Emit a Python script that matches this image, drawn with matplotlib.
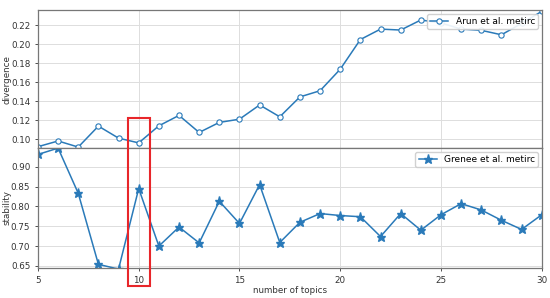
import matplotlib
matplotlib.use("Agg")
import matplotlib.pyplot as plt
from matplotlib.patches import Rectangle

topics = list(range(5, 31))
divergence = [0.092, 0.098, 0.0916, 0.1137, 0.101, 0.096, 0.114, 0.125, 0.107, 0.1176,
              0.121, 0.136, 0.1235, 0.1445, 0.151, 0.1737, 0.205, 0.216, 0.215, 0.2256,
              0.2225, 0.216, 0.2147, 0.21, 0.222, 0.2347]
stability = [0.931, 0.947, 0.833, 0.654, 0.642, 0.845, 0.700, 0.748, 0.708, 0.813,
             0.757, 0.855, 0.709, 0.760, 0.782, 0.777, 0.774, 0.724, 0.782, 0.740,
             0.779, 0.807, 0.791, 0.765, 0.742, 0.779]
xticks = [5, 10, 15, 20, 25, 30]
top_yticks = [0.10, 0.12, 0.14, 0.16, 0.18, 0.20, 0.22]
bot_yticks = [0.65, 0.70, 0.75, 0.80, 0.85, 0.90]

plt.rcParams['font.family'] = ['DejaVu Sans']
fig = plt.figure(figsize=(5.5, 2.98), dpi=100)
L, R = 0.069, 0.985
ax1 = fig.add_axes([L, 0.503, R - L, 0.966 - 0.503])
ax2 = fig.add_axes([L, 0.101, R - L, 0.503 - 0.101], sharex=ax1)

c = '#2a7ab9'
ax1.plot(topics, divergence, '-o', color=c, lw=1.1, ms=3.8, mfc='white', mec=c, mew=0.8,
         label='Arun et al. metirc')
ax2.plot(topics, stability, '-*', color=c, lw=1.1, ms=6.5, label='Grenee et al. metirc')

ax1.set_ylim(0.0905, 0.236)
ax2.set_ylim(0.645, 0.947)
ax1.set_xlim(5, 30)
ax1.set_yticks(top_yticks)
ax1.set_yticklabels([f'{v:.2f}' for v in top_yticks])
ax2.set_yticks(bot_yticks)
ax2.set_yticklabels([f'{v:.2f}' for v in bot_yticks])
ax2.set_xticks(xticks)
plt.setp(ax1.get_xticklabels(), visible=False)

for ax in (ax1, ax2):
    ax.grid(True, color='#dddddd', lw=0.7)
    ax.tick_params(labelsize=6.3, length=2, width=0.6, colors='#333333')
    for s in ax.spines.values():
        s.set_color('#777777')
        s.set_linewidth(0.9)
    ax.legend(loc='upper right', fontsize=6.5, handlelength=2, borderpad=0.35,
              framealpha=0.9, edgecolor='#cccccc', borderaxespad=0.4)
ax1.tick_params(axis='x', length=0)

ax1.set_ylabel('divergence', fontsize=6.3, color='#333333')
ax2.set_ylabel('stability', fontsize=6.3, color='#333333')
ax1.yaxis.set_label_coords(-0.052, 0.5)
ax2.yaxis.set_label_coords(-0.052, 0.5)
ax2.set_xlabel('number of topics', fontsize=6.3, color='#333333', labelpad=1)

fig.patches.append(Rectangle((128 / 550, 1 - 286 / 298), 22 / 550, 168 / 298,
                             transform=fig.transFigure, fill=False,
                             edgecolor='#e8262a', lw=1.5, zorder=10))

fig.savefig('out.png', dpi=100)
